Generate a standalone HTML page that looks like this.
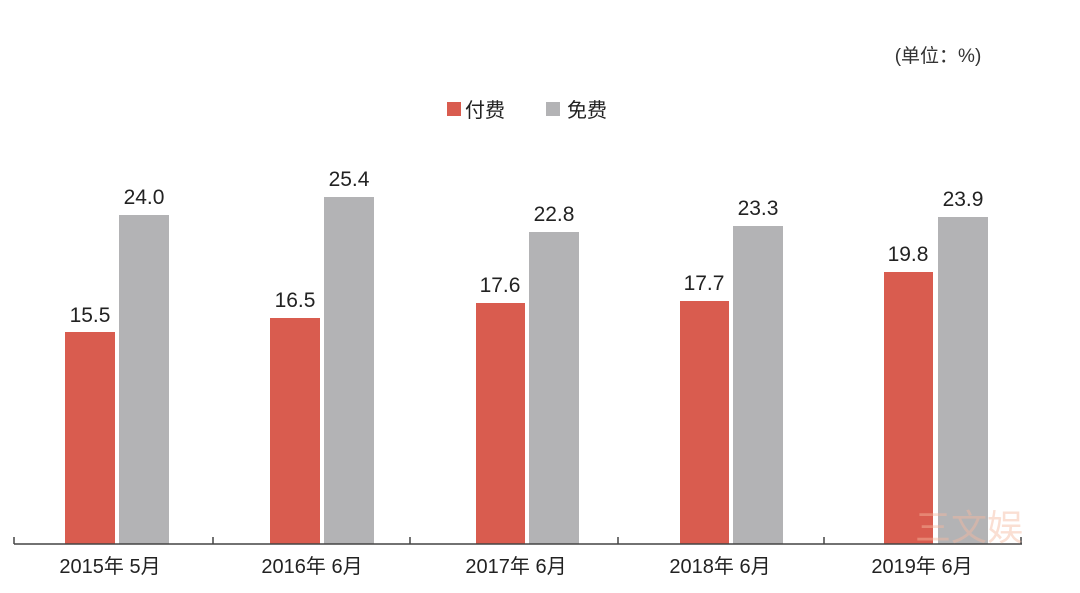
<!DOCTYPE html>
<html><head><meta charset="utf-8"><style>
body{margin:0;background:#fff;width:1080px;height:588px;overflow:hidden;font-family:"Liberation Sans","Noto Sans CJK SC",sans-serif;color:#222}
</style></head><body>
<svg width="1080" height="588" xmlns="http://www.w3.org/2000/svg" font-family="Liberation Sans, Noto Sans CJK SC, sans-serif">
<text x="938" y="62" font-size="19" text-anchor="middle" fill="#333">(单位：%)</text>
<rect x="447" y="102" width="14" height="14" fill="#d95c4f"/>
<text x="465" y="117" font-size="20" fill="#222">付费</text>
<rect x="546" y="102" width="14" height="14" fill="#b3b3b5"/>
<text x="567" y="117" font-size="20" fill="#222">免费</text>
<g font-size="21" text-anchor="middle" fill="#222">
<rect x="65" y="332" width="50" height="212" fill="#d95c4f"/><rect x="119" y="215" width="50" height="329" fill="#b3b3b5"/>
<text x="90" y="322">15.5</text><text x="144" y="204">24.0</text>
<rect x="270" y="318" width="50" height="226" fill="#d95c4f"/><rect x="324" y="197" width="50" height="347" fill="#b3b3b5"/>
<text x="295" y="307">16.5</text><text x="349" y="186">25.4</text>
<rect x="476" y="303" width="49" height="241" fill="#d95c4f"/><rect x="529" y="232" width="50" height="312" fill="#b3b3b5"/>
<text x="500" y="292">17.6</text><text x="554" y="221">22.8</text>
<rect x="680" y="301" width="49" height="243" fill="#d95c4f"/><rect x="733" y="226" width="50" height="318" fill="#b3b3b5"/>
<text x="704" y="290">17.7</text><text x="758" y="215">23.3</text>
<rect x="884" y="272" width="49" height="272" fill="#d95c4f"/><rect x="938" y="217" width="50" height="327" fill="#b3b3b5"/>
<text x="908" y="261">19.8</text><text x="963" y="206">23.9</text>
</g>
<g stroke="#444" stroke-width="1.5" fill="none">
<line x1="14" y1="544" x2="1022" y2="544"/>
<line x1="14" y1="537" x2="14" y2="544"/><line x1="213" y1="537" x2="213" y2="544"/><line x1="410" y1="537" x2="410" y2="544"/>
<line x1="618" y1="537" x2="618" y2="544"/><line x1="824" y1="537" x2="824" y2="544"/><line x1="1021" y1="537" x2="1021" y2="544"/>
</g>
<g font-size="20" text-anchor="middle" fill="#222">
<text x="110" y="573">2015年 5月</text><text x="312" y="573">2016年 6月</text><text x="516" y="573">2017年 6月</text>
<text x="720" y="573">2018年 6月</text><text x="922" y="573">2019年 6月</text>
</g>
<text x="915" y="540" font-size="36" fill="#f6b9a0" opacity="0.45">三文娱</text>
</svg>
</body></html>
